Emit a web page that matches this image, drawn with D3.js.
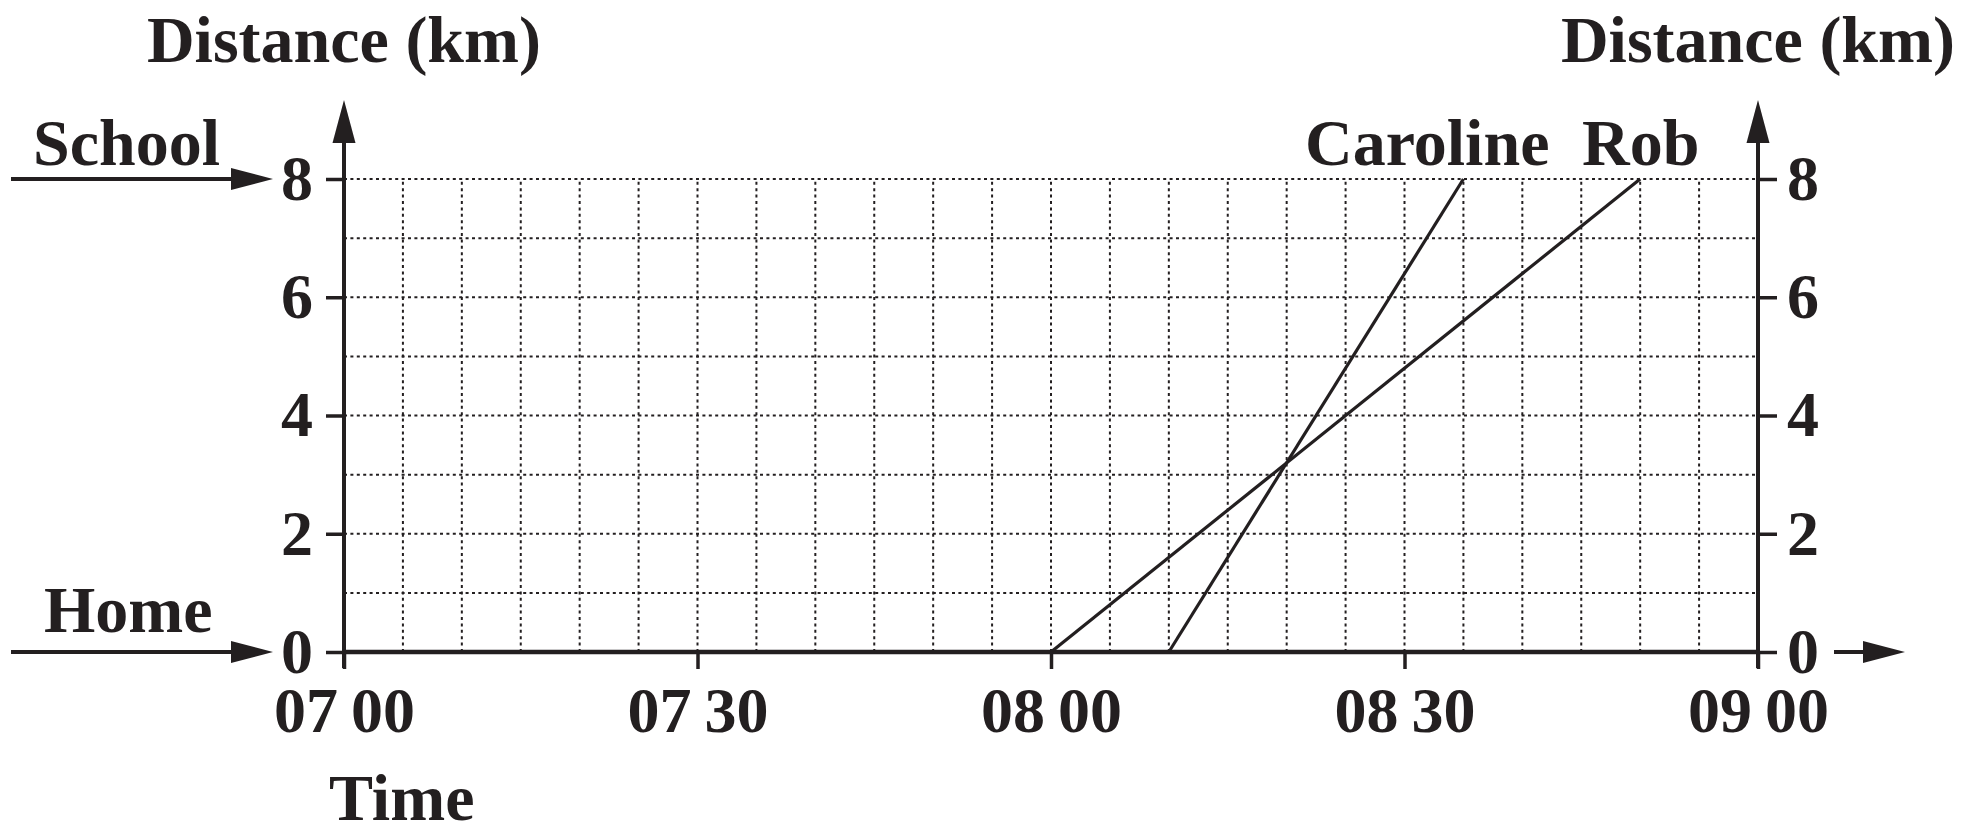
<!DOCTYPE html>
<html>
<head>
<meta charset="utf-8">
<script src="https://cdn.jsdelivr.net/npm/d3@7/dist/d3.min.js"></script>
<style>
  html, body { margin: 0; padding: 0; background: #fff; }
  svg { display: block; }
  text { font-family: "Liberation Serif", "Times New Roman", serif; font-weight: bold; fill: #231f20; }
</style>
</head>
<body>
<script>
// ---- data ----
const timeTickMinutes = [0, 30, 60, 90, 120];          // minutes after 07 00
const timeTickLabels  = ["07\u200900", "07\u200930", "08\u200900", "08\u200930", "09\u200900"];
const distTicks = [0, 2, 4, 6, 8];
const gridMinutes = d3.range(5, 120, 5);
const gridKm = [1, 2, 3, 4, 5, 6, 7, 8];
const robTime = [60, 110];
const robDist = [0, 8];
const carolineTime = [70, 95];
const carolineDist = [0, 8];
const seriesNames = ["Caroline", "Rob"];

// ---- layout ----
const W = 1988, H = 837;
const ink = "#231f20";
const svg = d3.select("body").append("svg").attr("width", W).attr("height", H);

const x = d3.scaleLinear().domain([0, 120]).range([344, 1758]);
const y = d3.scaleLinear().domain([0, 8]).range([652, 179]);

// grid
const grid = svg.append("g").attr("stroke", ink).attr("stroke-width", 2).attr("stroke-dasharray", "3,3.4");
grid.selectAll("line.v").data(gridMinutes).join("line")
  .attr("x1", d => x(d)).attr("x2", d => x(d))
  .attr("y1", y(0)).attr("y2", y(8));
grid.selectAll("line.h").data(gridKm).join("line")
  .attr("x1", x(0)).attr("x2", x(120))
  .attr("y1", d => y(d)).attr("y2", d => y(d));

// axes with tick labels
const fs = 64;
const leftAxis = svg.append("g").attr("transform", `translate(${x(0)},0)`)
  .call(d3.axisLeft(y).tickValues(distTicks).tickSize(18).tickPadding(13).tickFormat(d3.format("d")));
const rightAxis = svg.append("g").attr("transform", `translate(${x(120)},0)`)
  .call(d3.axisRight(y).tickValues(distTicks).tickSize(19).tickPadding(10).tickFormat(d3.format("d")));
const bottomAxis = svg.append("g").attr("transform", `translate(0,${y(0)})`)
  .call(d3.axisBottom(x).tickValues(timeTickMinutes).tickSize(17).tickPadding(18)
    .tickFormat((d, i) => timeTickLabels[i]));
[leftAxis, rightAxis, bottomAxis].forEach(g => {
  g.select(".domain").remove();
  g.selectAll(".tick line").attr("stroke", ink).attr("stroke-width", 3.5);
  g.selectAll(".tick text").attr("fill", ink).style("font-size", fs + "px")
    .style("font-family", '"Liberation Serif", "Times New Roman", serif').style("font-weight", "bold");
});

// axis lines
const axisW = 4;
svg.append("line").attr("x1", x(0)).attr("x2", x(0)).attr("y1", y(0) + 16).attr("y2", 140)
  .attr("stroke", ink).attr("stroke-width", axisW);
svg.append("line").attr("x1", x(120)).attr("x2", x(120)).attr("y1", y(0) + 16).attr("y2", 140)
  .attr("stroke", ink).attr("stroke-width", axisW);
svg.append("line").attr("x1", x(0) - 2).attr("x2", x(120) + 2).attr("y1", y(0)).attr("y2", y(0))
  .attr("stroke", ink).attr("stroke-width", 4.5);

// arrowheads
function upArrow(cx, tipY) {
  svg.append("path").attr("d", `M${cx},${tipY} L${cx - 11.5},${tipY + 43} L${cx + 11.5},${tipY + 43} Z`).attr("fill", ink);
}
function rightArrow(x0, tipX, cy) {
  svg.append("line").attr("x1", x0).attr("x2", tipX - 30).attr("y1", cy).attr("y2", cy)
    .attr("stroke", ink).attr("stroke-width", 4);
  svg.append("path").attr("d", `M${tipX},${cy} L${tipX - 42},${cy - 11} L${tipX - 42},${cy + 11} Z`).attr("fill", ink);
}
upArrow(x(0), 100);
upArrow(x(120), 100);
rightArrow(11, 273, y(8));
rightArrow(11, 273, y(0));
rightArrow(1834, 1905, y(0));

// data lines
const line = d3.line().x(d => x(d[0])).y(d => y(d[1]));
svg.append("path").datum(robTime.map((t, i) => [t, robDist[i]]))
  .attr("d", line).attr("fill", "none").attr("stroke", ink).attr("stroke-width", 3.2);
svg.append("path").datum(carolineTime.map((t, i) => [t, carolineDist[i]]))
  .attr("d", line).attr("fill", "none").attr("stroke", ink).attr("stroke-width", 3.2);

// labels
const tfs = 66;
function label(txt, px, py, anchor) {
  svg.append("text").attr("x", px).attr("y", py).attr("text-anchor", anchor || "start")
    .style("font-size", tfs + "px").text(txt);
}
label("Distance (km)", x(0), 62, "middle");
label("Distance (km)", x(120), 62, "middle");
label("School", 33, 165);
label("Home", 44, 632);
label("Time", 329, 820);
label(seriesNames[0], 1305, 165);
label(seriesNames[1], 1582, 165);
</script>
</body>
</html>
